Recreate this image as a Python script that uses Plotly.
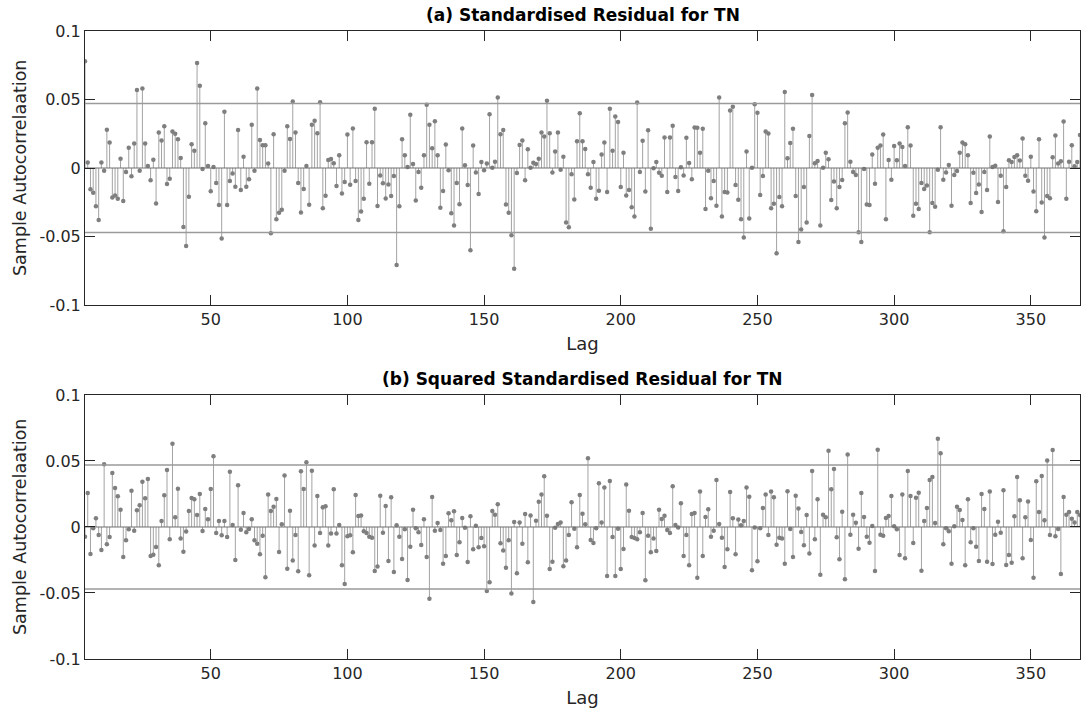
import plotly.graph_objects as go
from plotly.subplots import make_subplots

# lag axis as drawn in the reference (first visible stem sits on the left axis)
lags = list(range(4, 369))

# (a) standardised residual ACF
acf_a = [
    0.078, 0.004, -0.0156, -0.018, -0.028, -0.038, 0.004, -0.002, 0.028, 0.0186,
    -0.0215, -0.020, -0.0225, 0.0068, -0.024, -0.003, 0.0147, -0.006, 0.0178, 0.057,
    -0.002, 0.058, 0.0178, 0.0015, -0.009, 0.006, -0.026, 0.026, 0.020, 0.0305,
    -0.0117, -0.0078, 0.0266, 0.025, 0.021, 0.0073, -0.043, -0.057, -0.021, 0.0173,
    0.0125, 0.0767, 0.060, -0.0007, 0.0327, 0.0015, -0.017, 0.0007, -0.011, -0.027,
    -0.0515, 0.041, -0.027, -0.0095, -0.004, -0.0137, 0.0278, -0.016, 0.0083, -0.0137,
    -0.0083, 0.0315, -0.002, 0.058, 0.0205, 0.0166, 0.0166, 0.0032, -0.0476, 0.0247,
    -0.0374, -0.0327, -0.0305, -0.002, 0.0305, 0.0212, 0.0486, 0.026, -0.011, -0.0325,
    -0.0154, 0.0015, -0.0269, 0.0315, 0.0344, 0.0254, 0.048, -0.0293, -0.0203, 0.0059,
    0.0066, 0.0034, -0.0132, 0.0093, -0.0186, -0.0103, 0.0244, -0.0122, 0.0288, -0.0095,
    -0.038, -0.0317, -0.0225, 0.0188, -0.0115, 0.0188, 0.0432, -0.0278, -0.0054, -0.0112,
    -0.0222, -0.012, -0.0205, -0.0059, -0.0708, -0.028, 0.021, 0.0093, 0.0007, 0.0388,
    0.0029, -0.0237, -0.003, -0.0144, 0.0093, 0.0462, 0.0315, 0.0144, 0.0342, 0.0093,
    -0.029, -0.0168, 0.0171, -0.0017, -0.033, -0.042, -0.011, -0.0264, 0.0288, 0.002,
    -0.0125, -0.060, 0.0164, -0.0032, -0.019, 0.0044, -0.0017, 0.0032, 0.0393, 0.0002,
    0.0046, 0.0515, 0.0247, 0.0278, -0.0266, -0.0327, -0.049, -0.0735, -0.0037, 0.0168,
    0.020, -0.009, 0.0137, 0.0002, 0.0039, 0.0029, 0.0068, 0.0259, 0.023, 0.049,
    0.0254, -0.0032, 0.012, 0.0259, -0.0012, 0.0083, -0.0398, -0.0432, -0.0046, -0.023,
    0.0195, 0.040, 0.0195, 0.0139, -0.0046, -0.0144, 0.0044, -0.0225, -0.0166, 0.0098,
    0.0186, -0.0176, 0.0432, 0.0125, 0.0376, 0.0335, -0.0139, 0.0112, -0.020, -0.0161,
    -0.0286, -0.0354, 0.0479, -0.003, 0.0198, -0.0171, 0.0276, -0.0444, -0.0002, 0.0044,
    -0.0034, -0.0056, 0.0222, -0.0176, 0.0222, 0.0308, -0.0066, -0.0168, 0.0005, -0.0054,
    0.022, 0.0037, -0.0083, 0.0295, 0.0293, 0.0112, 0.0286, -0.030, -0.002, -0.022,
    -0.0095, -0.0276, 0.0515, -0.0354, -0.0176, -0.0178, 0.042, 0.0447, -0.0125, -0.0232,
    -0.0374, -0.0508, 0.012, -0.0369, 0.0002, 0.0466, 0.0403, -0.0198, -0.0059, 0.0266,
    0.0252, -0.0293, -0.0261, -0.0623, -0.0212, -0.028, 0.0554, 0.0071, 0.0183, 0.0286,
    -0.0205, -0.054, -0.0449, -0.0139, -0.0398, 0.0234, 0.0532, 0.0034, 0.0051, -0.042,
    0.0002, 0.0112, 0.0063, -0.0234, -0.0098, -0.0293, -0.0139, -0.0088, 0.0327, 0.0405,
    0.0046, -0.003, -0.0051, -0.0469, -0.054, -0.0007, -0.0266, -0.0271, 0.0098, -0.0115,
    0.0147, 0.0164, 0.0244, -0.0374, 0.0059, -0.0085, 0.0161, 0.0056, 0.0178, 0.0154,
    0.0015, 0.0298, 0.0164, -0.0349, -0.0261, -0.030, -0.011, -0.0154, -0.0127, -0.0469,
    -0.0256, -0.0283, -0.0012, 0.0298, -0.0085, -0.0032, 0.0022, -0.0276, -0.0051, -0.0022,
    0.0112, 0.0186, 0.0173, 0.0093, -0.0256, -0.0034, -0.0183, -0.012, -0.0322, -0.003,
    -0.0161, 0.023, 0.0007, 0.0017, -0.0249, -0.0056, -0.0462, -0.0139, 0.0056, 0.0044,
    0.0081, 0.0093, 0.0054, 0.0215, -0.0056, -0.0093, 0.0083, -0.0171, -0.0315, 0.021,
    -0.0252, -0.0508, -0.0205, -0.022, 0.0078, 0.0237, 0.0032, 0.0049, 0.034, -0.0225,
    0.0046, 0.0166, 0.0012, 0.0044, 0.024,
]

# (b) squared standardised residual ACF
acf_b = [
    -0.0073, 0.0258, -0.0205, -0.001, 0.0066, -0.0061, -0.0174, 0.0475, -0.0131, -0.0076,
    0.0409, 0.0295, 0.0232, 0.0131, -0.0227, -0.0101, -0.0018, 0.0275, -0.0028, 0.0126,
    0.0164, 0.0343, 0.0217, 0.0364, -0.022, -0.021, -0.0152, -0.029, 0.0045, 0.024,
    0.0432, -0.0093, 0.0631, 0.0073, 0.029, -0.0088, -0.0187, -0.0035, 0.0121, 0.022,
    0.021, 0.0091, 0.025, -0.003, 0.0136, 0.0058, 0.0288, 0.0535, -0.0045, 0.0045,
    -0.0063, 0.0045, -0.0076, 0.0419, 0.0015, -0.025, 0.0316, -0.002, 0.0106, -0.004,
    -0.0015, 0.0058, -0.0101, -0.0126, -0.0207, -0.0066, -0.0381, 0.0247, 0.0121, 0.0154,
    0.0212, -0.0189, 0.002, 0.0391, -0.0316, 0.0124, -0.0253, -0.0061, -0.0336, 0.0422,
    0.0288, 0.049, -0.0366, 0.0427, -0.0141, 0.0235, -0.0045, 0.0149, 0.0157, -0.0141,
    -0.005, 0.0285, -0.005, 0.0015, -0.029, -0.0432, -0.0071, -0.0063, -0.0192, 0.0242,
    0.0083, 0.0088, -0.0033, -0.0045, -0.0073, -0.0081, -0.0333, -0.030, 0.0237, -0.0043,
    0.0159, -0.0258, 0.0225, -0.0341, 0.0013, -0.0073, -0.0242, -0.0018, -0.0402, -0.0149,
    0.0131, -0.001, -0.004, -0.0136, 0.0058, -0.0227, -0.0543, 0.0227, -0.0028, 0.003,
    -0.0023, -0.0278, -0.022, 0.0104, 0.0051, 0.0119, -0.0212, -0.0116, 0.0068, -0.0005,
    -0.0265, 0.0081, -0.0169, 0.001, -0.0154, -0.0083, -0.0146, -0.0485, -0.0419, 0.0121,
    0.0093, 0.0172, -0.0124, -0.0179, -0.0308, -0.0101, -0.0503, 0.0038, -0.0351, 0.0035,
    -0.0126, 0.0098, -0.0268, 0.0088, -0.0568, 0.0048, 0.0192, 0.0247, 0.0384, 0.0086,
    -0.0318, -0.0263, -0.0005, 0.0023, 0.0035, -0.0298, -0.0253, -0.0061, 0.0187, -0.0013,
    -0.0154, 0.0242, 0.0101, 0.002, 0.052, -0.0098, -0.0121, -0.001, 0.0331, 0.0035,
    0.03, -0.0371, 0.0348, -0.0076, -0.0371, -0.0013, -0.0318, -0.0167, 0.0321, 0.0124,
    -0.0076, -0.0083, -0.0093, -0.004, 0.0106, -0.0404, -0.0066, -0.0192, -0.0088, -0.0182,
    0.0131, 0.0061, 0.0086, -0.0023, -0.0045, 0.0308, 0.0015, -0.0003, 0.0179, -0.022,
    -0.0061, -0.029, 0.0098, 0.0106, -0.0384, 0.0268, -0.022, 0.0076, 0.0134, -0.0073,
    -0.0028, 0.0356, 0.0023, -0.0081, -0.0303, -0.0169, 0.0265, 0.0066, -0.0207, 0.0056,
    0.0013, 0.0045, 0.03, 0.023, -0.0328, -0.0003, -0.026, -0.001, 0.0144, 0.0247,
    -0.0061, 0.0268, 0.0225, -0.0134, -0.0081, -0.0088, -0.0278, 0.027, -0.0015, -0.0227,
    0.0237, 0.0141, -0.0038, -0.0139, 0.0091, -0.02, 0.0424, -0.0093, 0.021, -0.0361,
    0.0093, 0.0073, 0.0578, 0.0285, 0.0439, -0.0078, -0.0245, 0.0116, -0.0396, 0.055,
    -0.0058, 0.0093, 0.0033, -0.0164, 0.0258, 0.0076, -0.0073, -0.0119, 0.0008, -0.0333,
    0.0586, -0.0058, -0.0066, 0.0068, 0.0083, 0.0235, 0.0005, -0.0018, -0.0212, 0.0247,
    -0.0237, 0.0424, 0.0235, -0.0121, 0.0222, 0.026, -0.0331, 0.0045, 0.0144, 0.0356,
    0.0379, 0.003, 0.0669, 0.0558, -0.0131, -0.001, -0.0033, -0.0278, 0.0005, 0.0154,
    0.0129, 0.0053, -0.029, 0.021, -0.0116, -0.001, -0.0149, -0.0258, 0.025, 0.0136,
    -0.0263, 0.0268, -0.028, -0.0058, 0.004, -0.0043, 0.0278, -0.0288, -0.0212, -0.027,
    0.0081, 0.0379, 0.0202, -0.0237, 0.0073, 0.0194, -0.0098, -0.0384, 0.0346, 0.0114,
    0.0386, 0.0051, 0.0503, -0.0061, 0.0583, -0.0071, -0.0015, -0.0356, 0.0227, 0.0093,
    0.0114, 0.0063, 0.0035, 0.0114, 0.009,
]

conf_bound = 0.047
titles = ["(a) Standardised Residual for TN", "(b) Squared Standardised Residual for TN"]
x_ticks = [50, 100, 150, 200, 250, 300, 350]
y_ticks = [0.1, 0.05, 0, -0.05, -0.1]
y_ticktext = ["0.1", "0.05", "0", "-0.05", "-0.1"]

FONT = "DejaVu Sans"
AXIS_COL = "#262626"
DOM_A = [0.5637, 1.0]
DOM_B = [0.0, 0.4204]


def stems(x, y):
    sx, sy = [], []
    for a, b in zip(x, y):
        sx += [a, a, None]
        sy += [0, b, None]
    return sx, sy


fig = make_subplots(rows=2, cols=1)

for row, vals in [(1, acf_a), (2, acf_b)]:
    sx, sy = stems(lags, vals)
    fig.add_trace(go.Scatter(x=sx, y=sy, mode="lines",
                             line=dict(color="#a3a3a3", width=1),
                             hoverinfo="skip", showlegend=False), row=row, col=1)
    fig.add_trace(go.Scatter(x=lags, y=vals, mode="markers",
                             marker=dict(color="#7f7f7f", size=4.5),
                             showlegend=False), row=row, col=1)
    # confidence bounds and zero line
    for yv, col, w in [(conf_bound, "#9a9a9a", 1.5), (-conf_bound, "#9a9a9a", 1.5), (0, "#6e6e6e", 1)]:
        fig.add_trace(go.Scatter(x=[lags[0], lags[-1]], y=[yv, yv], mode="lines",
                                 line=dict(color=col, width=w),
                                 hoverinfo="skip", showlegend=False), row=row, col=1)

axis_common = dict(showline=True, linecolor=AXIS_COL, linewidth=1, mirror="ticks",
                   ticks="inside", ticklen=10, tickcolor=AXIS_COL, showgrid=False,
                   zeroline=False, automargin=False,
                   tickfont=dict(family=FONT, size=16, color=AXIS_COL))

for row in (1, 2):
    fig.update_xaxes(range=[lags[0], lags[-1]], tickvals=x_ticks,
                     title=dict(text="Lag", font=dict(family=FONT, size=18, color=AXIS_COL), standoff=9),
                     row=row, col=1, **axis_common)
    fig.update_yaxes(range=[-0.1, 0.1], tickvals=y_ticks, ticktext=y_ticktext,
                     row=row, col=1, **axis_common)

annotations = []
for title, dom in zip(titles, [DOM_A, DOM_B]):
    annotations.append(dict(text="<b>%s</b>" % title, x=0.5, y=dom[1], xref="paper", yref="paper",
                            xanchor="center", yanchor="bottom", yshift=4, showarrow=False,
                            font=dict(family=FONT, size=17, color="black")))
    annotations.append(dict(text="Sample Autocorrelaation", textangle=-90,
                            x=0, y=(dom[0] + dom[1]) / 2, xref="paper", yref="paper",
                            xanchor="center", yanchor="middle", xshift=-65, showarrow=False,
                            font=dict(family=FONT, size=17.5, color=AXIS_COL)))

fig.update_layout(
    width=1081, height=713,
    margin=dict(l=85, r=1, t=31, b=54, autoexpand=False),
    paper_bgcolor="white", plot_bgcolor="white",
    xaxis=dict(domain=[0, 1]), xaxis2=dict(domain=[0, 1]),
    yaxis=dict(domain=DOM_A), yaxis2=dict(domain=DOM_B),
    annotations=annotations,
)

# drop the browser's default page margin so the figure sits at the window origin
fig.write_html("out.html", config={"displayModeBar": False},
               post_script="document.body.style.margin='0';document.body.style.overflow='hidden';")
